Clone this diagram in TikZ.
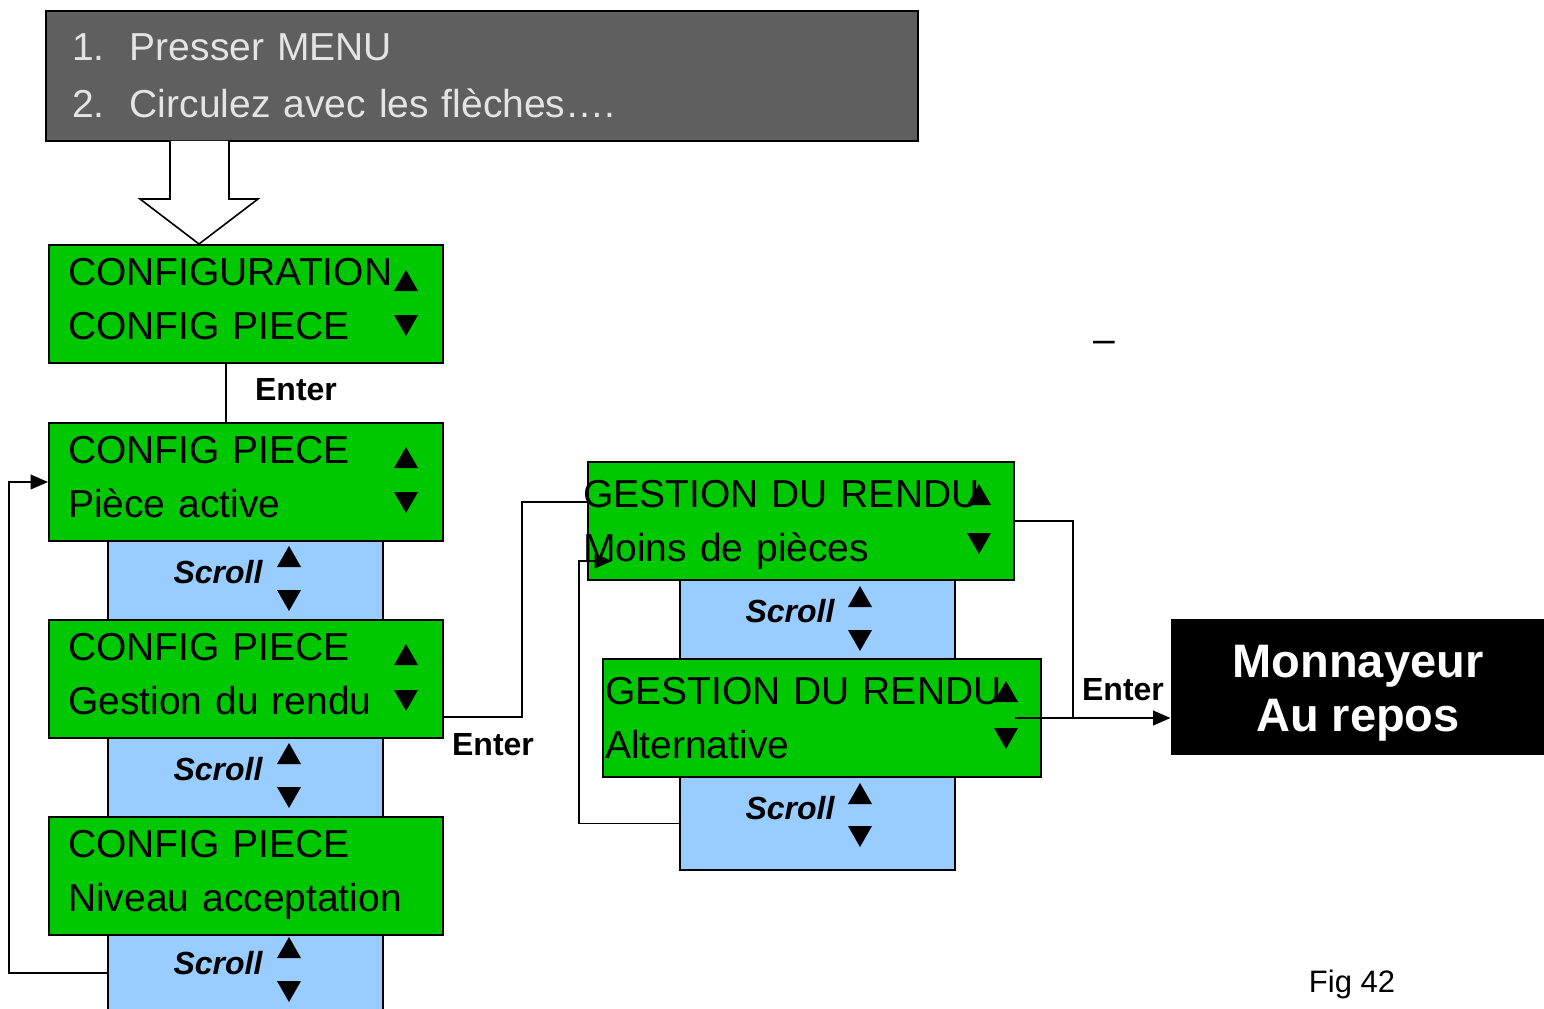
\documentclass[tikz,border=0pt]{standalone}
\usepackage{fontspec}
\setmainfont{Liberation Sans}
\usetikzlibrary{arrows.meta}

\definecolor{lcdgreen}{RGB}{0,200,0}
\definecolor{scrollblue}{RGB}{153,204,255}
\definecolor{menugray}{RGB}{95,95,95}
\definecolor{menutext}{RGB}{228,228,228}

\tikzset{every picture/.style={line width=0.75pt}}

\begin{document}
\begin{tikzpicture}[x=0.75pt,y=0.75pt,yscale=-1,xscale=1,
  lcd/.style={draw, line width=1.5pt, fill=lcdgreen, minimum height=88.5pt, align=left, font=\fontsize{29.25}{40.5}\selectfont},
  textup/.style={execute at end node={\endgraf\kern#1}},
  lcdleft/.style={lcd, text width=267pt, inner xsep=14.25pt},
  scrollbox/.style={draw, line width=1.5pt, fill=scrollblue, minimum width=206.25pt, inner sep=0pt},
  scrolltxt/.style={font=\fontsize{24}{24}\selectfont\bfseries\itshape},
  entertxt/.style={font=\fontsize{24}{24}\selectfont\bfseries},
  link/.style={line width=1.2pt},
  arr/.style={link, -{Triangle[length=13pt,width=11pt]}}]
\useasboundingbox (0,0) rectangle (1544,1009);

%Scroll strips (behind the LCD boxes)
\node[scrollbox, minimum height=59.25pt] (scr1) at (245.5,580.5) {};
\node[scrollbox, minimum height=59.25pt] (scr2) at (245.5,777.5) {};
\node[scrollbox, minimum height=57pt] (scr3) at (245.5,973) {};
\node[scrollbox, minimum height=59.25pt] (scr4) at (817.5,619.5) {};
\node[scrollbox, minimum height=69.75pt] (scr5) at (817.5,823.5) {};

% Text Node
\node[scrolltxt] (scrl1) at (218,572) {Scroll};
\node[scrolltxt] (scrl2) at (218,769) {Scroll};
\node[scrolltxt] (scrl3) at (218,963) {Scroll};
\node[scrolltxt] (scrl4) at (790,611) {Scroll};
\node[scrolltxt] (scrl5) at (790,808) {Scroll};

%Menu box
\node[draw, line width=1.5pt, fill=menugray, text=menutext, text width=615pt, inner xsep=19.5pt, minimum height=97.5pt, align=left, font=\fontsize{29.25}{42.75}\selectfont, textup=-3pt] (menu) at (482,76)
  {\begin{tabular}{@{}l@{\hspace{19pt}}l@{}}1. & Presser MENU\\ 2. & Circulez avec les flèches…. \end{tabular}};

%Block arrow
\draw[line width=1.2pt, fill=white] (170,141) -- (170,199) -- (140,199) -- (199,244) -- (258,199) -- (229,199) -- (229,141);

%LCD boxes
\node[lcdleft, textup=7.5pt] (cfg) at (246,304) {CONFIGURATION\\CONFIG PIECE};
\node[lcdleft, textup=7.5pt] (cp1) at (246,482) {CONFIG PIECE\\Pièce active};
\node[lcdleft, textup=7.5pt] (cp2) at (246,679) {CONFIG PIECE\\Gestion du rendu};
\node[lcdleft, textup=2pt] (cp3) at (246,876) {CONFIG PIECE\\Niveau acceptation};
\node[lcd, text width=327pt, inner xsep=-3.75pt, textup=-5.5pt] (gr1) at (801,521) {GESTION DU RENDU\\Moins de pièces};
\node[lcd, text width=325.5pt, inner xsep=1.5pt] (gr2) at (822,718) {GESTION DU RENDU\\Alternative};

%Up / down keys
\foreach \x/\y in {406/281, 406/458, 406/655, 289/557, 289/754, 289/948, 979/495, 860/597, 1006/692, 860/794}
  \fill (\x-12,\y+10) -- (\x+12,\y+10) -- (\x,\y-11) -- cycle;
\foreach \x/\y in {406/325, 406/502, 406/700, 289/600, 289/797, 289/991, 979/543, 860/640, 1006/738, 860/836}
  \fill (\x-12,\y-10) -- (\x+12,\y-10) -- (\x,\y+11) -- cycle;

%Rest state
\node[fill=black, minimum width=279.75pt, minimum height=102pt, inner sep=0pt] (mon) at (1357.5,687) {};
\node[text=white, align=center, font=\fontsize{35.25}{40.5}\selectfont\bfseries] (montxt) at (1358,693) {Monnayeur\\Au repos};

%Straight Lines
\draw[link] ([xshift=-15pt]cfg.south) -- ([xshift=-15pt]cp1.north);
\draw[link] ([yshift=28.5pt]cp2.east) -- ++(78,0) |- ([yshift=-14.25pt]gr1.west);
\draw[arr] (scr3.west) -- ++(-98,0) |- (cp1.west);
\draw[arr] (scr5.west) -- ++(-100,0) |- ([shift={(18.75pt,30pt)}]gr1.west);
\coordinate (join) at (1073,718);
\draw[link] (gr1.east) -| (join);
\draw[arr] ([xshift=-20.25pt]gr2.east) -- (gr2.east -| mon.west);

% Text Node
\node[entertxt] (ent1) at (296,390) {Enter};
\node[entertxt] (ent2) at (493,745) {Enter};
\node[entertxt] (ent3) at (1123,690) {Enter};
\node[font=\fontsize{29.25}{29.25}\selectfont] (dash) at (1104,347) {–};
\node[font=\fontsize{23.25}{23.25}\selectfont] (fig) at (1352,984) {Fig 42};

\end{tikzpicture}
\end{document}
